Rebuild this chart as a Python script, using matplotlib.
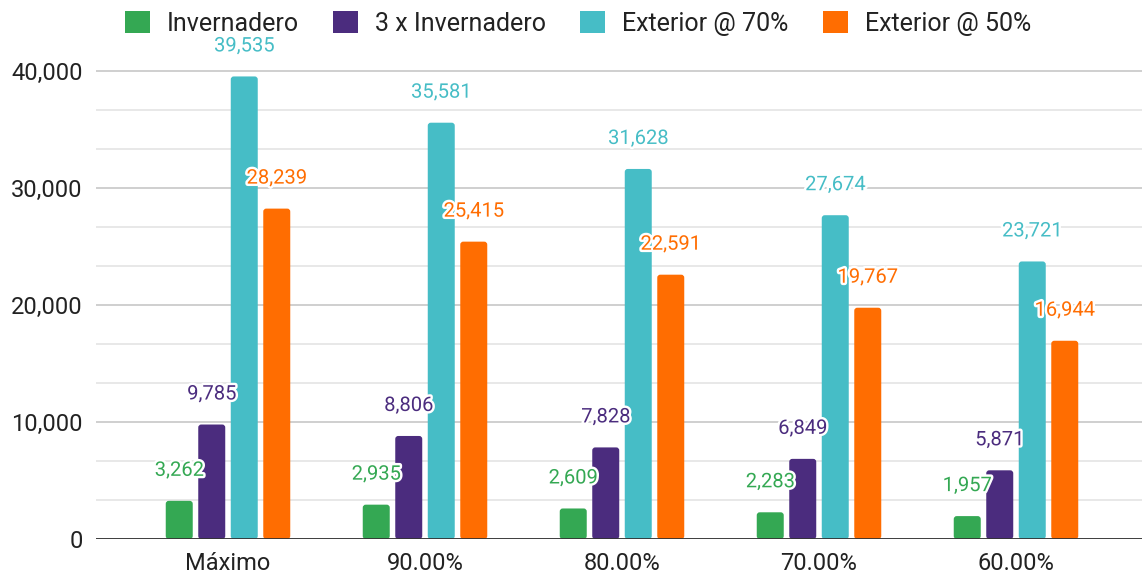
import matplotlib.pyplot as plt
import matplotlib.patheffects as pe
from matplotlib.patches import FancyBboxPatch, Patch
from matplotlib.ticker import MultipleLocator, FuncFormatter
import numpy as np

plt.rcParams['font.family'] = ['Roboto', 'DejaVu Sans']

categories = ['Máximo', '90.00%', '80.00%', '70.00%', '60.00%']
series_names = ['Invernadero', '3 x Invernadero', 'Exterior @ 70%', 'Exterior @ 50%']
invernadero = [3262, 2935, 2609, 2283, 1957]
tres_invernadero = [9785, 8806, 7828, 6849, 5871]
exterior_70 = [39535, 35581, 31628, 27674, 23721]
exterior_50 = [28239, 25415, 22591, 19767, 16944]

series = [invernadero, tres_invernadero, exterior_70, exterior_50]
colors = ['#34a853', '#4b2c7e', '#46bdc6', '#ff6d01']

fig = plt.figure(figsize=(11.42, 5.75), dpi=100)
# axes: left 96px, bottom baseline at 539px, top at 55px
ax = fig.add_axes([96 / 1142, 1 - 539 / 575, 1 - 96 / 1142, (539 - 55) / 575])

x = np.arange(len(categories))
width = 0.137
step = 0.165
# x units -> px ~197, y units -> px 468/40000
r = 3 / 197
aspect = (3 / (468 / 40000)) / r
for i, (vals, col, name) in enumerate(zip(series, colors, series_names)):
    pos = x + (i - 1.5) * step
    bars = ax.bar(pos, vals, width, color=col, zorder=3)
    # swap in slightly rounded versions of the bars
    for b in bars:
        b.set_visible(False)
        ax.add_patch(FancyBboxPatch((b.get_x(), b.get_y()), b.get_width(), b.get_height(),
                                    boxstyle=f'round,pad=0,rounding_size={r}',
                                    mutation_aspect=aspect, fc=col, ec='none', zorder=3))
    for px, v in zip(pos, vals):
        t = ax.annotate(f'{v:,}', (px, v), xytext=(0, 21), textcoords='offset pixels',
                        ha='center', va='bottom', color=col, fontsize=14.5, zorder=5,
                        annotation_clip=False)
        t.set_path_effects([pe.withStroke(linewidth=3.5, foreground='white')])

ax.set_xlim((96 - 228) / 197, (1142 - 228) / 197)
ax.set_ylim(0, (539 - 55) / 468 * 40000)
ax.set_xticks(x)
ax.set_xticklabels(categories, fontsize=17, color='#222222')
ax.yaxis.set_major_locator(MultipleLocator(10000))
ax.yaxis.set_minor_locator(MultipleLocator(10000 / 3))
ax.yaxis.set_major_formatter(FuncFormatter(lambda v, p: f'{int(v):,}'))
ax.tick_params(axis='y', which='both', length=0, pad=9.5, labelsize=17, labelcolor='#222222')
ax.tick_params(axis='x', length=0, pad=9)
ax.grid(axis='y', which='major', color='#cccccc', linewidth=1.3, zorder=0)
ax.grid(axis='y', which='minor', color='#e6e6e6', linewidth=1.3, zorder=0)
ax.set_axisbelow(True)
for s in ax.spines.values():
    s.set_visible(False)
ax.axhline(0, color='#333333', linewidth=1.3, zorder=4)

handles = [Patch(facecolor=c, edgecolor='none', label=n) for c, n in zip(colors, series_names)]
fig.legend(handles=handles, loc='upper center', bbox_to_anchor=(578 / 1142, 1.02), ncol=4,
           frameon=False, fontsize=18, handlelength=1.0, handleheight=1.0,
           handletextpad=0.68, columnspacing=1.36, labelcolor='#222222')

fig.savefig('out.png', dpi=100)
